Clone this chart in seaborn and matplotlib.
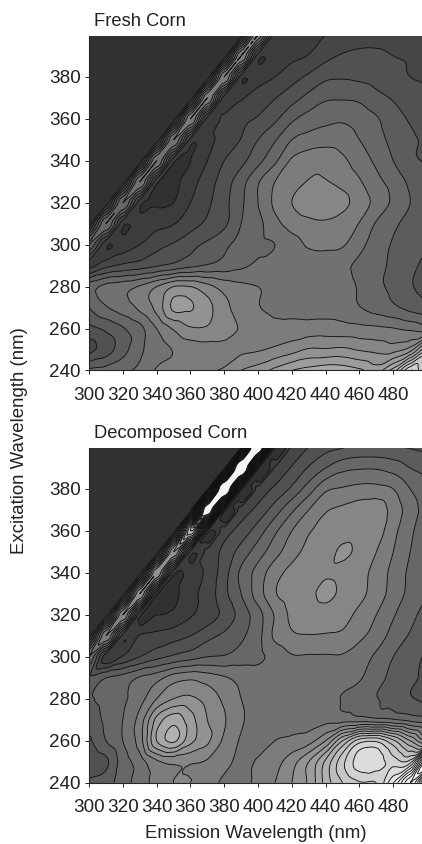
import numpy as np
import matplotlib
matplotlib.use("Agg")
import matplotlib.pyplot as plt
import matplotlib.tri as mtri
import seaborn as sns

emission = list(range(300, 510, 10))
excitation = list(range(400, 230, -10))
em_ticks = list(range(300, 500, 20))
ex_ticks = list(range(240, 400, 20))

# intensity levels, rows go from ex 400 down to ex 240
fresh = [
    [.5, .5, .5, .5, .5, .5, .5, .5, .5, .3, 8, 1.5, 1.6, 1.8, 2.0, 2.4, 2.5, 2.6, 2.6, 2.5, 2.4],
    [.5, .5, .5, .5, .5, .5, .5, .5, .3, 8, 1.5, 1.6, 1.8, 2.05, 2.7, 3.1, 3.25, 3.2, 3.0, 2.9, 2.7],
    [.5, .5, .5, .5, .5, .5, .5, .3, 8, 1.5, 1.7, 2.0, 2.6, 3.2, 3.8, 3.9, 3.8, 3.6, 3.3, 3.0, 2.85],
    [.5, .5, .5, .5, .5, .5, .3, 8, 1.5, 1.9, 2.4, 2.95, 3.6, 4.3, 4.85, 4.9, 4.8, 4.3, 3.9, 3.5, 3.2],
    [.5, .5, .5, .5, .5, .3, 8, 1.6, 2.3, 2.8, 3.1, 3.8, 4.8, 5.4, 5.7, 5.85, 5.6, 5.1, 4.4, 3.9, 3.5],
    [.5, .5, .5, .5, .3, 7, 1.6, 1.8, 2.3, 3.05, 4.0, 4.9, 6.0, 6.4, 6.6, 6.5, 6.0, 5.4, 4.7, 4.2, 3.8],
    [.5, .5, .5, .3, 7, 1.3, 1.0, 2.0, 3.0, 3.7, 4.7, 5.8, 7.15, 7.6, 7.7, 7.2, 6.5, 5.8, 5.0, 4.2, 3.9],
    [.5, .5, .3, 7, 1.3, .8, 1.6, 2.5, 3.5, 4.6, 5.9, 7.0, 7.6, 8.05, 8.05, 7.7, 7.1, 6.3, 5.6, 4.8, 4.2],
    [.5, .3, 6, 1.4, .9, 1.0, 2.0, 2.8, 3.7, 4.8, 6, 7.2, 8, 8.5, 8.6, 8.3, 7.5, 6.7, 5.8, 5, 4.5],
    [.3, 6, 1.3, 1.5, 1.7, 1.95, 2.6, 3.2, 3.8, 5.0, 5.7, 6.7, 7.4, 7.75, 7.85, 7.5, 6.95, 5.9, 5.2, 4.7, 4.5],
    [5, 1.2, 1.5, 2.0, 2.7, 3.1, 3.7, 4.2, 4.8, 5.3, 5.8, 6.0, 6.6, 7.1, 7.2, 7.1, 6.3, 5.5, 4.9, 4.4, 4.1],
    [1.7, 2.7, 3.2, 3.5, 3.9, 4.3, 4.75, 5.1, 5.4, 5.8, 6.2, 6.5, 6.6, 6.6, 6.5, 6.2, 5.8, 5.3, 4.8, 4.2, 3.8],
    [5.5, 6.3, 6.6, 7.1, 8.0, 9.0, 9.0, 8.3, 7.6, 7.2, 7.0, 6.8, 6.7, 6.6, 6.6, 6.3, 5.9, 5.2, 4.8, 4.1, 3.7],
    [5.0, 5.9, 6.5, 7.2, 8.3, 10.2, 10.1, 9.3, 8.3, 7.5, 7.05, 6.8, 6.7, 6.6, 6.6, 6.5, 6.05, 5.6, 5.2, 4.7, 4.3],
    [3.7, 4.2, 4.9, 5.7, 7.0, 8.1, 8.9, 8.9, 8.5, 7.9, 7.5, 7.3, 7.4, 7.45, 7.5, 7.4, 7.3, 7.2, 7.05, 6.8, 6.6],
    [2.7, 3.5, 4.6, 5.8, 6.5, 7.05, 7.4, 7.6, 7.7, 7.8, 7.9, 8.2, 8.6, 9.1, 9.1, 9.2, 8.9, 8.7, 8.6, 9.5, 13],
    [5.2, 5.4, 5.8, 6.2, 7.1, 7.3, 7.4, 7.9, 8.1, 9.0, 9.5, 10.3, 11.0, 11.4, 11.7, 11.6, 11.2, 10.6, 12.5, 16, 13],
]

decomposed = [
    [.5, .5, .5, .5, .5, .5, .5, .5, .5, .3, 31, 1.3, 2.1, 3, 3.6, 3.9, 4.1, 4.1, 4, 3.9, 3.7],
    [.5, .5, .5, .5, .5, .5, .5, .5, .3, 31, 1.5, 2.1, 3.1, 4.1, 5.0, 5.7, 5.9, 5.9, 5.6, 5, 4.6],
    [.5, .5, .5, .5, .5, .5, .5, .3, 30, 1.7, 2.4, 3.2, 4.2, 5.5, 6.8, 7.1, 7.3, 7.3, 7.0, 6, 5.2],
    [.5, .5, .5, .5, .5, .5, .3, 27, 1.8, 2.5, 3.3, 4.5, 5.8, 7, 7.9, 8.2, 8.5, 8.6, 7.6, 6.5, 5.5],
    [.5, .5, .5, .5, .5, .3, 14, 1.7, 2.6, 3.4, 4.5, 5.8, 7, 7.9, 8.3, 8.7, 8.8, 8.5, 7.3, 6.2, 5.4],
    [.5, .5, .5, .5, .3, 10, 1.7, 2.3, 3.3, 4.4, 5.5, 6.6, 7.6, 8.3, 8.7, 9.1, 8.8, 8.0, 7.0, 6, 5.4],
    [.5, .5, .5, .3, 10, 1.4, 1.6, 2.2, 3.6, 5.2, 6.4, 7.6, 8.3, 8.7, 8.9, 8.8, 8.4, 7.6, 6.7, 5.8, 5.2],
    [.5, .5, .3, 10, 1.2, .8, 1.7, 2.4, 3.7, 5, 6.5, 7.9, 8.5, 8.8, 9.2, 8.8, 8.3, 7.5, 6.6, 5.7, 5.0],
    [.5, .3, 9, 1.3, 1.0, 1.2, 1.9, 2.4, 3.3, 4.4, 5.6, 7.1, 8.2, 8.5, 8.6, 8.4, 7.7, 7, 6.1, 5.3, 4.6],
    [.3, 8, 1.6, 2.05, 2.3, 2.6, 3.0, 3.7, 4.2, 4.8, 5.7, 7.2, 7.85, 7.95, 7.9, 7.8, 7.2, 6.6, 5.6, 4.9, 4.4],
    [6, 1.4, 2.1, 3.0, 3.7, 4.2, 4.6, 5, 5.1, 5.5, 5.8, 6.3, 6.9, 6.9, 6.9, 6.9, 6.5, 5.8, 5, 4.3, 3.9],
    [4.2, 5, 5.4, 6.1, 6.6, 7.5, 7.8, 7.5, 7.1, 6.7, 6.4, 6.1, 6.3, 6.4, 6.4, 6.4, 6.1, 5.4, 4.7, 4.2, 3.8],
    [4.9, 5.2, 5.8, 6.6, 8, 9, 9.2, 8.6, 7.8, 7, 6.7, 6.6, 6.6, 6.6, 6.3, 5.95, 5.6, 5.05, 4.7, 4.1, 3.8],
    [4.5, 5.2, 6, 7.4, 10.3, 11.6, 10.4, 9, 8.1, 7.1, 6.8, 6.7, 6.7, 6.6, 6.7, 6.6, 6.5, 6.3, 6.1, 5.7, 5.3],
    [3.8, 5, 6, 7.5, 11, 12.2, 10.3, 9.2, 7.8, 6.9, 6.6, 7.0, 7.2, 7.6, 9, 12, 14.5, 14.8, 13.2, 11, 9],
    [3.2, 3.8, 5.5, 6.5, 7.8, 8.2, 8.1, 7.9, 7.3, 6.8, 7.1, 7.6, 8.6, 10, 12.2, 14.7, 16.5, 16.6, 15.5, 15.5, 24],
    [4.2, 4.5, 5.6, 6.4, 7.4, 8.0, 8, 7.5, 6.8, 6.8, 7.2, 8.0, 9, 10.2, 12.4, 14, 14.9, 15, 18, 22, 14],
]

sns.set_style("ticks")
plt.rcParams["font.family"] = ["Liberation Sans", "DejaVu Sans"]

levels = np.arange(0, 25)
greys = sns.blend_palette(["#2c2c2c", "#ececec"], as_cmap=True)
greys.set_over("#f4f4f4")

# split every cell along the em = ex direction so the scatter ridge stays one straight line
X, Y = np.meshgrid(emission, excitation)
n_rows, n_cols = X.shape
triangles = []
for r in range(n_rows - 1):
    for c in range(n_cols - 1):
        a = r * n_cols + c
        b = a + 1
        d = a + n_cols
        e = d + 1
        triangles.append([a, d, b])
        triangles.append([b, d, e])
grid = mtri.Triangulation(X.ravel(), Y.ravel(), triangles=triangles)
refiner = mtri.UniformTriRefiner(grid)


def draw_panel(ax, values, title):
    z = np.array(values, dtype=float).ravel()
    smooth = mtri.CubicTriInterpolator(grid, z, kind="geom")
    fine, fine_z = refiner.refine_field(z, triinterpolator=smooth, subdiv=3)
    # the cubic overshoots beside the ridge, keep it above the darkest level
    fine_z = np.clip(fine_z, 0.15, None)
    ax.tricontourf(fine, fine_z, levels=levels, cmap=greys, vmin=0, vmax=18, extend="max")
    ax.tricontour(fine, fine_z, levels=levels, colors="#111111", linewidths=0.65)
    ax.set_xlim(300, 497)
    ax.set_ylim(240, 399.5)
    ax.set_xticks(em_ticks)
    ax.set_yticks(ex_ticks)
    ax.tick_params(axis="x", labelsize=13.6, length=3, width=0.7, pad=9, colors="#222222")
    ax.tick_params(axis="y", labelsize=13.6, length=3, width=0.7, pad=3, colors="#222222")
    ax.set_title(title, loc="left", fontsize=13.2, pad=7, x=0.016, color="#222222")
    sns.despine(ax=ax, top=True, right=True)


fig = plt.figure(figsize=(4.22, 8.44), dpi=100)
ax1 = fig.add_axes([89 / 422, 1 - 370.5 / 844, 333 / 422, 334.5 / 844])
ax2 = fig.add_axes([89 / 422, 1 - 782.7 / 844, 333 / 422, 334.7 / 844])

draw_panel(ax1, fresh, "Fresh Corn")
draw_panel(ax2, decomposed, "Decomposed Corn")

ax2.set_xlabel("Emission Wavelength (nm)", fontsize=13.4, labelpad=6.5, color="#222222")
fig.text(20 / 422, 1 - 441 / 844, "Excitation Wavelength (nm)", rotation=90, fontsize=13.4,
         ha="center", va="center", color="#222222")

fig.savefig("out.png", dpi=100)
